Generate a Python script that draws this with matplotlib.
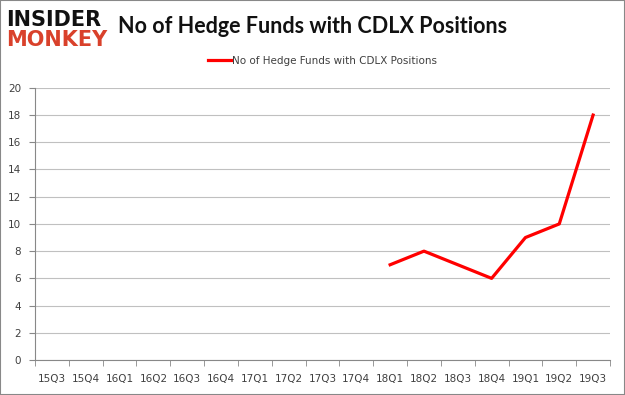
import numpy as np
import matplotlib.pyplot as plt
from matplotlib.patches import Rectangle

quarters = ["15Q3", "15Q4", "16Q1", "16Q2", "16Q3", "16Q4", "17Q1", "17Q2", "17Q3",
            "17Q4", "18Q1", "18Q2", "18Q3", "18Q4", "19Q1", "19Q2", "19Q3"]
funds = [np.nan] * 10 + [7, 8, 7, 6, 9, 10, 18]
series_name = "No of Hedge Funds with CDLX Positions"
yticks = list(range(0, 21, 2))

fig = plt.figure(figsize=(6.25, 3.95), dpi=100)
ax = fig.add_axes([0.056, 0.0886, 0.92, 0.689])

x = np.arange(len(quarters))
ax.plot(x, funds, color="#ff0000", linewidth=2.3, label=series_name, zorder=3)

ax.set_xlim(-0.5, len(quarters) - 0.5)
ax.set_ylim(0, 20)
ax.set_yticks(yticks)
ax.set_xticks(x)
ax.set_xticklabels(quarters)
ax.set_xticks(np.arange(-0.5, len(quarters)), minor=True)
ax.tick_params(axis="x", which="major", length=0, pad=10, labelsize=7.5, labelcolor="#404040")
ax.tick_params(axis="x", which="minor", length=4, color="#888888")
ax.tick_params(axis="y", length=4, color="#888888", labelsize=7.5, labelcolor="#404040", pad=6)
ax.grid(axis="y", color="#c0c0c0", linewidth=0.8)
for s in ["top", "right"]:
    ax.spines[s].set_visible(False)
for s in ["left", "bottom"]:
    ax.spines[s].set_color("#888888")

ax.legend(loc="center", bbox_to_anchor=(0.5, 1.1), frameon=False,
          fontsize=7.5, handlelength=2.2, handletextpad=0.1, labelcolor="#404040")

fig.text(0.188, 0.932, "No of Hedge Funds with CDLX Positions", fontsize=15.5,
         fontweight="bold", color="#111111", va="center", ha="left", family="Lato")
fig.text(0.01, 0.95, "INSIDER", fontsize=15, fontweight="heavy", color="#111111",
         va="center", ha="left", family="DejaVu Sans")
fig.text(0.01, 0.898, "MONKEY", fontsize=15, fontweight="heavy", color="#d9412b",
         va="center", ha="left", family="DejaVu Sans")

fig.patches.append(Rectangle((0, 0), 1, 1, transform=fig.transFigure, fill=False,
                             edgecolor="#888888", linewidth=1.5))

fig.savefig("out.png", dpi=100)
